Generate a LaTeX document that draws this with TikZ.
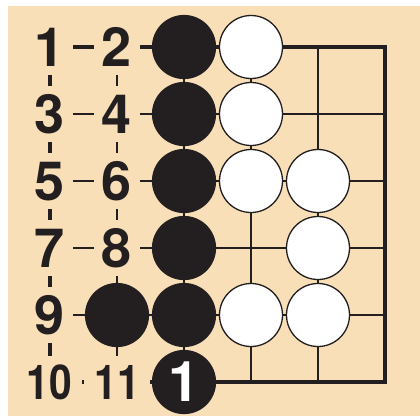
\documentclass[tikz,border=0pt]{standalone}
\usepackage{fontspec}
\setmainfont{TeX Gyre Heros}
\definecolor{beige}{RGB}{248,223,183}
\definecolor{ink}{RGB}{35,31,32}
\begin{document}
\begin{tikzpicture}[x=1pt,y=-1pt,
  lbl/.style={fill=beige,inner xsep=8pt,inner ysep=9pt,text height=38pt,text depth=0pt,
    font=\fontsize{54}{54}\selectfont\bfseries,text=ink},
  slbl/.style={fill=beige,inner xsep=0pt,inner ysep=9pt,minimum width=66pt,text height=34pt,text depth=0pt,
    font=\fontsize{48}{48}\selectfont\bfseries,text=ink},
  bstone/.style={circle,minimum size=63pt,inner sep=0pt,fill=ink,draw=ink,line width=1.2pt},
  wstone/.style={circle,minimum size=63pt,inner sep=0pt,fill=white,draw=ink,line width=1.3pt},
  thin/.style={draw=ink,line width=1.5pt},
  edge/.style={draw=ink,line width=4pt,line cap=rect}]
\useasboundingbox (0,0) rectangle (420,416);
\fill[beige] (8,6) rectangle (420,416);
% grid
\foreach \i in {1,...,4} {
  \draw[thin] (50+67*\i,47) -- (50+67*\i,382);
  \draw[thin] (50,47+67*\i) -- (385,47+67*\i);
}
\draw[edge] (50,47) rectangle (385,382);
% labels
\node[lbl] (l1) at (50,47) {1};
\node[lbl] (l2) at (117,47) {2};
\node[lbl] (l3) at (50,114) {3};
\node[lbl] (l4) at (117,114) {4};
\node[lbl] (l5) at (50,181) {5};
\node[lbl] (l6) at (117,181) {6};
\node[lbl] (l7) at (50,248) {7};
\node[lbl] (l8) at (117,248) {8};
\node[lbl] (l9) at (50,315) {9};
\node[slbl] (l10) at (49,382) {\scalebox{0.85}[1]{10}};
\node[slbl] (l11) at (117,382) {\scalebox{0.85}[1]{11}};
% black stones
\foreach \y/\n in {47/a,114/b,181/c,248/d,315/e} {
  \node[bstone] (b\n) at (184,\y) {};
}
\node[bstone] (bf) at (117,315) {};
\node[bstone,text=white,font=\fontsize{56}{56}\selectfont\bfseries,text height=39pt,text depth=0pt] (bg) at (184,382) {1};
% white stones
\node[wstone] (wa) at (251,47) {};
\node[wstone] (wb) at (251,114) {};
\node[wstone] (wc) at (251,181) {};
\node[wstone] (wd) at (251,315) {};
\node[wstone] (we) at (318,181) {};
\node[wstone] (wf) at (318,248) {};
\node[wstone] (wg) at (318,315) {};
\end{tikzpicture}
\end{document}
